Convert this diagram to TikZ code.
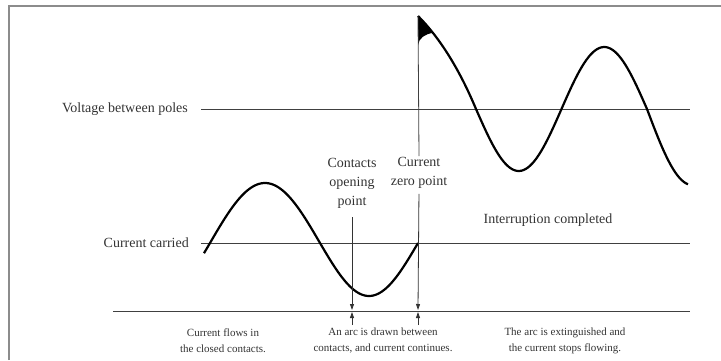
\documentclass[tikz,border=0pt]{standalone}
\usepackage{fontspec}
\setmainfont{Liberation Serif}
\usetikzlibrary{arrows.meta,positioning}

\begin{document}
\begin{tikzpicture}[x=1pt, y=1pt,
    axis/.style={line width=0.9pt, black!75},
    wave/.style={line width=2.2pt, black, line join=round},
    lbl/.style={font=\fontsize{14}{19}\selectfont, text=black!80, inner sep=0pt, align=center},
    note/.style={font=\fontsize{11}{16}\selectfont, text=black!80, inner sep=0pt, align=center},
    marker/.style={line width=0.8pt, black!80, -{Triangle[length=6pt, width=4pt]}}]
    \useasboundingbox (0, 0) rectangle (721, 360);

    % Frame
    \draw[line width=1.2pt, black!45] (9, 0) -- (9, 354) -- (721, 354);

    % Reference lines and their labels
    \node[lbl, anchor=east] (vlabel) at (188, 251) {Voltage between poles};
    \node[lbl, anchor=east] (ilabel) at (189, 117) {Current carried};
    \coordinate (vstart) at (201, 251);
    \coordinate (vend) at (690, 251);
    \coordinate (istart) at (201, 117);
    \coordinate (iend) at (690, 117);
    \coordinate (bstart) at (113, 49);
    \coordinate (bend) at (690, 49);
    \draw[axis] (vstart) -- (vend);
    \draw[axis] (istart) -- (iend);
    \draw[axis] (bstart) -- (bend);

    % Current wave
    \draw[wave] plot[domain=204:320, samples=60] (\x, {117 + 60*sin((\x - 210)/110*180)})
        -- plot[domain=320:418, samples=50] (\x, {117 - 53*sin((\x - 320)/98*180)});

    % Voltage wave after the current zero
    \draw[wave] (418, 344) .. controls (438, 324) and (458, 294) .. (476, 251)
        -- plot[domain=476:647, samples=80] (\x, {251 - 62*sin((\x - 476)/85.5*180)})
        -- plot[domain=647:688, samples=20] (\x, {251 - 76*sin((\x - 647)/90*180)});
    \fill (418, 344) .. controls (423, 339) and (428, 333.4) .. (433, 327.1)
        .. controls (425, 326) and (419, 322) .. (418, 315) -- cycle;

    % Instants
    \node[lbl] (opening) at (352, 177) {Contacts\\opening\\point};
    \node[lbl] (zero) at (419, 187) {Current\\zero point};
    \coordinate (vtop) at (418, 344);
    \coordinate (opendown) at (352, 50);
    \coordinate (zerodown) at (418, 50);
    \coordinate (openlow) at (352, 35);
    \coordinate (openup) at (352, 48);
    \coordinate (zerolow) at (418, 35);
    \coordinate (zeroup) at (418, 48);
    \draw[axis, line width=0.8pt] (vtop) -- ([yshift=1pt]zero.north);
    \draw[marker, shorten <=9pt] (opening.south) -- (opendown);
    \draw[marker, shorten <=5pt] (zero.south) -- (zerodown);
    \draw[marker] (openlow) -- (openup);
    \draw[marker] (zerolow) -- (zeroup);

    \node[lbl] (done) at (548, 140) {Interruption completed};

    % Stages below the time line
    \node[note] (closed) at (223, 19) {Current flows in\\the closed contacts.};
    \node[note] (arc) at (383, 19) {An arc is drawn between\\contacts, and current continues.};
    \node[note] (stops) at (565, 19) {The arc is extinguished and\\the current stops flowing.};
\end{tikzpicture}
\end{document}
